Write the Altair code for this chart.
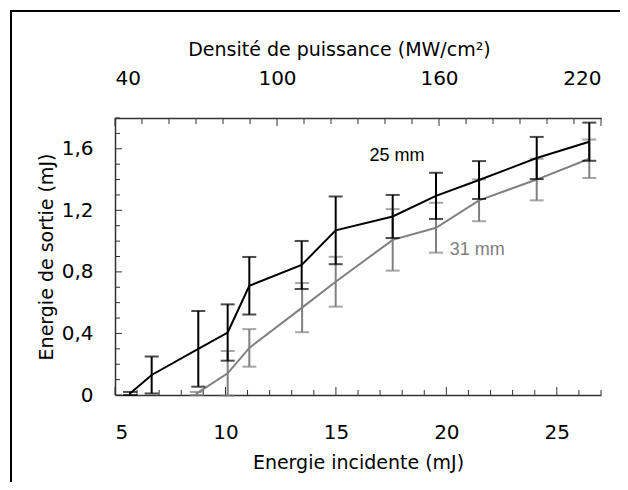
import altair as alt
import pandas as pd

# ---- data ----
x_25 = [5.68, 6.66, 8.77, 10.1, 11.08, 13.45, 14.99, 17.57, 19.53, 21.48, 24.09, 26.47]
y_25 = [0.01, 0.13, 0.30, 0.406, 0.71, 0.845, 1.07, 1.16, 1.294, 1.397, 1.54, 1.646]
e_25 = [0.01, 0.12, 0.246, 0.183, 0.187, 0.156, 0.22, 0.14, 0.15, 0.123, 0.137, 0.124]

x_31 = [8.70, 10.1, 11.08, 13.47, 14.99, 17.57, 19.53, 21.48, 24.09, 26.47]
y_31 = [0.01, 0.141, 0.306, 0.568, 0.736, 1.008, 1.087, 1.265, 1.40, 1.535]
e_31 = [0.01, 0.145, 0.122, 0.16, 0.162, 0.2, 0.162, 0.136, 0.135, 0.125]

x_labels = [5, 10, 15, 20, 25]
x_minor = list(range(5, 28))
y_labels = [0, 0.4, 0.8, 1.2, 1.6]
y_minor = [round(i * 0.1, 1) for i in range(19)]
d_labels = [40, 100, 160, 220]
d_minor = list(range(40, 221, 10))

ann_text = ["25 mm", "31 mm"]
ann_x = [17.76, 21.4]
ann_y = [1.553, 0.942]
ann_color = ["black", "#808080"]

FONT = "Comic Sans MS, DejaVu Sans"
AXC = "#333333"
W, H = 486, 277

XS = alt.Scale(domain=[5, 27], nice=False, zero=False)
YS = alt.Scale(domain=[0, 1.8], nice=False, zero=False)
DS = alt.Scale(domain=[40, 220], nice=False, zero=False)

x_axis = alt.Axis(values=x_labels, ticks=False, grid=False, labelPadding=27,
                  titlePadding=11, domainColor=AXC, domainWidth=1.5)
y_axis = alt.Axis(values=y_labels, ticks=False, grid=False, labelPadding=22,
                  titlePadding=5, domainColor=AXC, domainWidth=1.5,
                  labelExpr="replace(format(datum.value, '.1~f'), '.', ',')")
d_axis = alt.Axis(orient="top", values=d_labels, ticks=False, grid=False,
                  labelPadding=30, titlePadding=9, titleX=224,
                  domainColor=AXC, domainWidth=1.5)

XT = "Energie incidente (mJ)"
YT = "Energie de sortie (mJ)"
DT = "Densité de puissance (MW/cm²)"


def X(f):
    return alt.X(f, type="quantitative", scale=XS, axis=x_axis, title=XT)


def Y(f):
    return alt.Y(f, type="quantitative", scale=YS, axis=y_axis, title=YT)


def series_layers(xs, ys, es, color):
    df = pd.DataFrame({"x": xs, "y": ys, "err": es})
    base = alt.Chart(df).transform_calculate(
        lo="datum.y - datum.err", hi="datum.y + datum.err")
    line = alt.Chart(df).mark_line(color=color, strokeWidth=2).encode(x=X("x"), y=Y("y"))
    bars = base.mark_rule(color=color, strokeWidth=2).encode(
        x=X("x"), y=Y("lo"), y2="hi:Q")
    caps = base.transform_fold(["lo", "hi"], as_=["k", "cap"]).mark_tick(
        color=color, orient="horizontal", size=14, thickness=2).encode(
        x=X("x"), y=Y("cap"))
    return [line, bars, caps]


xt = pd.DataFrame({"v": x_minor})
xt["major"] = xt["v"].isin(x_labels)
yt = pd.DataFrame({"v": y_minor})
yt["major"] = yt["v"].isin(y_labels)
dt = pd.DataFrame({"d": d_minor})
dt["major"] = dt["d"].isin(d_labels)

x_ticks_major = alt.Chart(xt).transform_filter("datum.major").mark_rule(
    color=AXC, strokeWidth=1).encode(x=X("v"), y=alt.value(H), y2=alt.value(H - 8))
x_ticks_minor = alt.Chart(xt).transform_filter("!datum.major").mark_rule(
    color=AXC, strokeWidth=1).encode(x=X("v"), y=alt.value(H), y2=alt.value(H - 5))
y_ticks_major = alt.Chart(yt).transform_filter("datum.major").mark_rule(
    color=AXC, strokeWidth=1).encode(y=Y("v"), x=alt.value(0), x2=alt.value(7))
y_ticks_minor = alt.Chart(yt).transform_filter("!datum.major").mark_rule(
    color=AXC, strokeWidth=1).encode(y=Y("v"), x=alt.value(0), x2=alt.value(5))

frame = alt.Chart(pd.DataFrame({"a": [0]})).mark_rect(
    fillOpacity=0, stroke="black", strokeWidth=2).encode(
    x=alt.value(-104), x2=alt.value(540), y=alt.value(-107), y2=alt.value(420))

ann = pd.DataFrame({"t": ann_text, "x": ann_x, "y": ann_y, "c": ann_color})
labels = alt.Chart(ann).mark_text(font="Liberation Sans", fontSize=18).encode(
    x=X("x"), y=Y("y"), text="t:N",
    color=alt.Color("c:N", scale=None))

inner = alt.layer(
    frame,
    x_ticks_major, x_ticks_minor, y_ticks_major, y_ticks_minor,
    *series_layers(x_31, y_31, e_31, "#808080"),
    *series_layers(x_25, y_25, e_25, "black"),
    labels,
)


def D(f):
    return alt.X(f, type="quantitative", scale=DS, axis=d_axis, title=DT)


d_major = alt.Chart(dt).transform_filter("datum.major").mark_rule(
    color=AXC, strokeWidth=1).encode(x=D("d"), y=alt.value(0), y2=alt.value(8))
d_minor_l = alt.Chart(dt).transform_filter("!datum.major").mark_rule(
    color=AXC, strokeWidth=1).encode(x=D("d"), y=alt.value(0), y2=alt.value(6))
top = alt.layer(d_major, d_minor_l)

chart = alt.layer(inner, top).resolve_scale(x="independent").properties(
    width=W, height=H,
    autosize=alt.AutoSizeParams(type="none"),
    padding={"left": 107, "top": 110, "right": 19, "bottom": 87},
).configure_view(strokeWidth=0).configure_axis(
    labelFont=FONT, titleFont=FONT, labelFontSize=20, titleFontSize=19,
    labelColor="black", titleColor="black", titleFontWeight="normal",
)

chart.save("out.html", embed_options={"renderer": "svg", "actions": False})
